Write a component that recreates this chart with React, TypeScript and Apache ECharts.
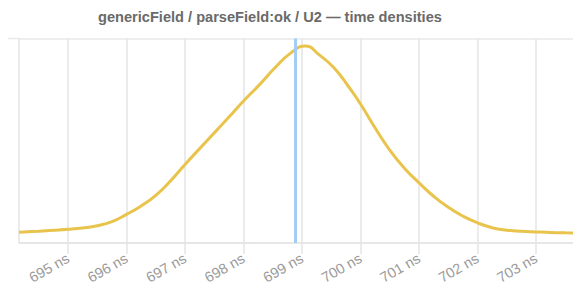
import React, { useEffect, useRef } from "react";
import * as echarts from "echarts";

const titleText = "genericField / parseField:ok / U2 — time densities";
const timesNs = [
  694.162, 694.25, 694.5, 694.75, 695, 695.25, 695.5, 695.75, 696, 696.25, 696.5, 696.75,
  697, 697.25, 697.5, 697.75, 698, 698.25, 698.55, 698.8, 699.05, 699.3, 699.55,
  699.8, 700, 700.25, 700.5, 700.75, 701, 701.25, 701.5, 701.75, 702,
  702.25, 702.5, 702.75, 703, 703.25, 703.5, 703.769,
];
const densities = [
  0.0183, 0.0188, 0.0202, 0.0217, 0.0234, 0.0258, 0.0295, 0.0365, 0.049, 0.0635, 0.0815, 0.106,
  0.1344, 0.1615, 0.1885, 0.2155, 0.243, 0.2685, 0.3012, 0.3245, 0.3373, 0.3215, 0.2995,
  0.267, 0.2379, 0.1968, 0.159, 0.128, 0.103, 0.08, 0.061, 0.046, 0.0345,
  0.0262, 0.022, 0.02, 0.0189, 0.018, 0.0175, 0.0171,
];
const markerNs = 698.88;
const xMin = 694.162;
const xMax = 703.769;
const yMax = 0.35;

export default function App() {
  const ref = useRef<HTMLDivElement>(null);
  useEffect(() => {
    if (!ref.current) return;
    const chart = echarts.init(ref.current, null, { renderer: "svg" });
    const font = "Liberation Sans, Arial, Helvetica, sans-serif";
    chart.setOption({
      animation: false,
      textStyle: { fontFamily: font },
      title: {
        text: titleText,
        left: 93,
        top: 4,
        textStyle: { fontSize: 14.6, fontWeight: "bold", color: "#6a6a6a", fontFamily: font },
      },
      grid: { left: 19, right: 0, top: 38.5, bottom: 48, containLabel: false },
      xAxis: {
        type: "value",
        min: xMin,
        max: xMax,
        splitNumber: 10,
        axisLine: { show: true, lineStyle: { color: "#e4e4e4", width: 1.5 } },
        axisTick: { show: true, length: 11, lineStyle: { color: "#e4e4e4", width: 1.5 } },
        splitLine: { show: true, lineStyle: { color: "#e4e4e4", width: 1.5 } },
        axisLabel: {
          rotate: 30,
          margin: 14,
          fontSize: 14.5,
          color: "#9a9a9a",
          showMinLabel: false,
          showMaxLabel: false,
          formatter: (v: number) => (Number.isInteger(v) ? `${v} ns` : ""),
        },
      },
      yAxis: {
        type: "value",
        min: 0,
        max: yMax,
        interval: yMax,
        axisLine: { show: false },
        axisTick: { show: false },
        axisLabel: { show: false },
        splitLine: { show: true, lineStyle: { color: "#e8e8e8", width: 1.5 } },
      },
      graphic: [
        {
          type: "line",
          shape: { x1: 5, y1: 38.5, x2: 19, y2: 38.5 },
          style: { stroke: "#e8e8e8", lineWidth: 1.5 },
        },
      ],
      series: [
        {
          type: "line",
          data: timesNs.map((t, i) => [t, densities[i]]),
          smooth: 0.5,
          showSymbol: false,
          lineStyle: { color: "#e9c44c", width: 3 },
          markLine: {
            silent: true,
            symbol: "none",
            label: { show: false },
            lineStyle: { color: "#a3cdf3", width: 3, type: "solid" },
            data: [{ xAxis: markerNs }],
          },
        },
      ],
    });
    return () => chart.dispose();
  }, []);
  return <div ref={ref} style={{ width: 581, height: 291, marginLeft: -8, marginTop: -8 }} />;
}
